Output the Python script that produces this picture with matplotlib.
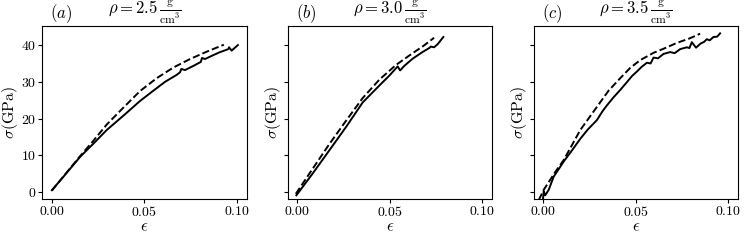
import numpy as np
import matplotlib
matplotlib.use("Agg")
from matplotlib import pyplot as plt

plt.rcParams.update({
    "font.family": "serif",
    "font.serif": ["cmr10", "DejaVu Serif"],
    "mathtext.fontset": "cm",
    "axes.formatter.use_mathtext": True,
    "font.size": 10,
})

# strain / stress pairs, (a) rho = 2.5
eps_a_sim = [0.0, 0.0063, 0.0153, 0.0225, 0.0297, 0.0387, 0.0477, 0.0549, 0.0612, 0.0675,
             0.0693, 0.0700, 0.0720, 0.0760, 0.0805, 0.0812, 0.0828, 0.0870, 0.0905, 0.0954,
             0.0958, 0.0972, 0.1006]
sig_a_sim = [0.5, 4.2, 9.6, 13.2, 16.9, 20.8, 24.8, 27.6, 30.0, 31.9,
             32.6, 33.5, 33.2, 34.2, 35.4, 36.5, 36.2, 37.2, 38.0, 38.9,
             39.4, 38.5, 40.0]
eps_a_fit = [0.0, 0.0063, 0.0153, 0.0225, 0.0297, 0.0387, 0.0477, 0.0567, 0.0657, 0.0747,
             0.0837, 0.0930]
sig_a_fit = [0.4, 4.3, 9.8, 14.0, 18.4, 23.0, 27.5, 31.0, 33.9, 36.2,
             38.2, 40.1]

# (b) rho = 3.0
eps_b_sim = [-0.0005, 0.0084, 0.0174, 0.0265, 0.0354, 0.0444, 0.0498, 0.0543, 0.0556, 0.0580,
             0.0624, 0.0680, 0.0714, 0.0722, 0.0740, 0.0760, 0.0790]
sig_b_sim = [-0.9, 5.1, 11.4, 17.8, 24.4, 29.0, 31.7, 34.2, 33.1, 34.4,
             36.3, 38.2, 39.2, 39.6, 39.4, 40.3, 42.2]
eps_b_fit = [-0.0008, 0.0084, 0.0174, 0.0265, 0.0354, 0.0444, 0.0534, 0.0624, 0.0680, 0.0740]
sig_b_fit = [-0.5, 6.4, 13.1, 19.5, 25.6, 30.6, 34.6, 37.8, 39.7, 42.0]

# (c) rho = 3.5
eps_c_sim = [-0.0002, 0.0002, 0.0010, 0.0029, 0.0056, 0.0080, 0.0110, 0.0150, 0.0200, 0.0240,
             0.0290, 0.0320, 0.0344, 0.0380, 0.0416, 0.0450, 0.0480, 0.0506, 0.0530, 0.0560,
             0.0580, 0.0596, 0.0620, 0.0650, 0.0686, 0.0710, 0.0740, 0.0776, 0.0790, 0.0803,
             0.0815, 0.0826, 0.0850, 0.0870, 0.0884, 0.0900, 0.0920, 0.0940, 0.0956]
sig_c_sim = [-2.0, 0.2, -0.9, 0.6, 4.2, 6.0, 8.3, 11.0, 14.5, 17.0,
             19.6, 22.0, 23.6, 25.8, 27.8, 29.8, 31.6, 32.8, 34.0, 35.2,
             35.0, 36.6, 36.4, 37.6, 38.1, 37.8, 38.9, 39.4, 39.2, 40.8,
             40.0, 39.3, 40.4, 40.9, 41.6, 41.3, 42.2, 42.3, 43.2]
eps_c_fit = [-0.0025, 0.0002, 0.0065, 0.0110, 0.0200, 0.0290, 0.0353, 0.0416, 0.0470, 0.0524,
             0.0560, 0.0596, 0.0650, 0.0722, 0.0790, 0.0848]
sig_c_fit = [-2.2, 0.6, 5.5, 8.7, 16.9, 23.2, 27.6, 31.0, 33.8, 35.9,
             36.9, 37.9, 39.0, 40.6, 41.8, 43.1]

panels = [
    ("(a)", "2.5", eps_a_sim, sig_a_sim, eps_a_fit, sig_a_fit),
    ("(b)", "3.0", eps_b_sim, sig_b_sim, eps_b_fit, sig_b_fit),
    ("(c)", "3.5", eps_c_sim, sig_c_sim, eps_c_fit, sig_c_fit),
]

fig = plt.figure(figsize=(7.47, 2.40), dpi=100)
lefts = [0.0566, 0.3851, 0.7145]
label_x = [-0.107, -0.022, -0.022]
axes = []
for i, left in enumerate(lefts):
    if i == 0:
        ax = fig.add_axes([left, 0.1708, 0.2740, 0.7209])
    else:
        ax = fig.add_axes([left, 0.1708, 0.2740, 0.7209], sharex=axes[0], sharey=axes[0])
    axes.append(ax)

for ax, lx, (tag, rho, xs, ys, xf, yf) in zip(axes, label_x, panels):
    ax.plot(xs, ys, color="black", linewidth=1.4)
    ax.plot(xf, yf, color="black", linewidth=1.4, linestyle="--")
    ax.set_xlabel(r"$\epsilon$", fontsize=12, labelpad=0)
    ax.set_ylabel(r"$\sigma(\mathrm{GPa})$", fontsize=11.5)
    ax.yaxis.set_label_coords(lx, 0.5)
    ax.set_title(r"$\rho = %s\,\frac{\mathrm{g}}{\mathrm{cm}^3}$" % rho, fontsize=12, pad=0.5)
    ax.text(0.04, 1.046, r"$%s$" % tag, transform=ax.transAxes, fontsize=12,
            va="baseline", ha="left")
    ax.tick_params(labelsize=10, length=3, pad=1.5)

axes[0].set_xlim(-0.0052, 0.1055)
axes[0].set_ylim(-1.9, 45.2)
axes[0].set_xticks([0.0, 0.05, 0.10])
axes[0].set_yticks([0, 10, 20, 30, 40])
for ax in axes[1:]:
    ax.tick_params(labelleft=False)

fig.savefig("out.png", dpi=100)
